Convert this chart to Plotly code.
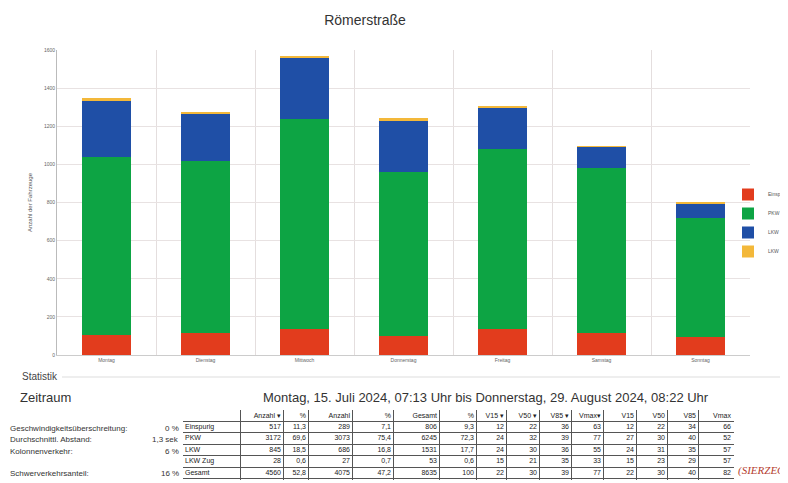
import plotly.graph_objects as go

# page body has an 8px margin, so the figure is a little smaller than the window
OFF = 8
W, H = 788 - OFF, 483 - OFF

# chart data (vehicles per weekday)
days = ["Montag", "Dienstag", "Mittwoch", "Donnerstag", "Freitag", "Samstag", "Sonntag"]
einspurig = [105, 117, 135, 100, 135, 114, 93]
pkw = [935, 901, 1101, 858, 946, 865, 627]
lkw = [292, 250, 326, 270, 216, 114, 76]
lkw_zug = [14, 8, 4, 13, 11, 2, 2]
y_ticks = [0, 200, 400, 600, 800, 1000, 1200, 1400, 1600]

# statistics table
row_labels = ["Einspurig", "PKW", "LKW", "LKW Zug", "Gesamt"]
header = ["", "Anzahl ▾", "%", "Anzahl", "%", "Gesamt", "%",
          "V15 ▾", "V50 ▾", "V85 ▾", "Vmax▾", "V15", "V50", "V85", "Vmax"]
anzahl_1 = [517, 3172, 845, 28, 4560]
pct_1 = ["11,3", "69,6", "18,5", "0,6", "52,8"]
anzahl_2 = [289, 3073, 686, 27, 4075]
pct_2 = ["7,1", "75,4", "16,8", "0,7", "47,2"]
gesamt = [806, 6245, 1531, 53, 8635]
pct_g = ["9,3", "72,3", "17,7", "0,6", "100"]
v15_1 = [12, 24, 24, 15, 22]
v50_1 = [22, 32, 30, 21, 30]
v85_1 = [36, 39, 36, 35, 39]
vmax_1 = [63, 77, 55, 33, 77]
v15_2 = [12, 27, 24, 15, 22]
v50_2 = [22, 30, 31, 23, 30]
v85_2 = [34, 40, 35, 29, 40]
vmax_2 = [66, 52, 57, 57, 82]
col_widths = [57, 43, 25, 44, 41, 46, 37, 30, 33, 32, 32, 33, 31, 31, 35]

side_labels = ["Geschwindigkeitsüberschreitung:", "Durchschnittl. Abstand:",
               "Kolonnenverkehr:", "", "Schwerverkehrsanteil:"]
side_values = ["0 %", "1,3 sek", "6 %", "", "16 %"]

colors = {"Einspurig": "#e23c1d", "PKW": "#0da444", "LKW": "#1f4fa6", "LKW Zug": "#f3b83a"}


def px(x):
    return (x - OFF) / W


def py(y):
    return 1 - (y - OFF) / H


fig = go.Figure()
for name, vals in [("Einspurig", einspurig), ("PKW", pkw), ("LKW", lkw), ("LKW Zug", lkw_zug)]:
    fig.add_trace(go.Bar(x=list(range(len(days))), y=vals, name=name,
                         marker=dict(color=colors[name], line=dict(width=0)),
                         width=0.5))

# table drawn on its own axes: x in column-width units, y in rows (0 = header)
columns = [row_labels, anzahl_1, pct_1, anzahl_2, pct_2, gesamt, pct_g,
           v15_1, v50_1, v85_1, vmax_1, v15_2, v50_2, v85_2, vmax_2]
edges = [0]
for w in col_widths:
    edges.append(edges[-1] + w)

lab_x, lab_y, lab_t = [], [], []
num_x, num_y, num_t = [], [], []
for j, col in enumerate(columns):
    cells = [header[j]] + [str(v) for v in col]
    for i, t in enumerate(cells):
        if j == 0:
            lab_x.append(edges[0] + 2); lab_y.append(i); lab_t.append(t)
        else:
            num_x.append(edges[j + 1] - 2); num_y.append(i); num_t.append(t)

fig.add_trace(go.Scatter(x=lab_x, y=lab_y, text=lab_t, mode="text", textposition="middle right",
                         textfont=dict(size=7, color="#222"), xaxis="x2", yaxis="y2",
                         showlegend=False, hoverinfo="skip"))
fig.add_trace(go.Scatter(x=num_x, y=num_y, text=num_t, mode="text", textposition="middle left",
                         textfont=dict(size=7, color="#222"), xaxis="x2", yaxis="y2",
                         showlegend=False, hoverinfo="skip"))

annotations = [
    dict(x=px(20), y=py(376), text="Statistik", font=dict(size=10, color="#444")),
    dict(x=px(18), y=py(397), text="Zeitraum", font=dict(size=13, color="#333")),
    dict(x=px(486), y=py(397), xanchor="center",
         text="Montag, 15. Juli 2024, 07:13 Uhr bis Donnerstag, 29. August 2024, 08:22 Uhr",
         font=dict(size=13, color="#333")),
    dict(x=px(736), y=py(470), text="<i>(SIERZEGA</i>",
         font=dict(size=11, color="#b5402f", family="Liberation Serif")),
]
row_y = [428, 439, 451, 462, 473]
for lab, val, yy in zip(side_labels, side_values, row_y):
    if lab:
        annotations.append(dict(x=px(8), y=py(yy), text=lab, font=dict(size=8, color="#333")))
        annotations.append(dict(x=px(181), y=py(yy), text=val, xanchor="right",
                                font=dict(size=8, color="#333")))
for a in annotations:
    a.setdefault("xanchor", "left")
    a.update(xref="paper", yref="paper", yanchor="middle", showarrow=False)

fig.update_layout(
    width=W, height=H,
    margin=dict(l=0, r=0, t=0, b=0, autoexpand=False),
    paper_bgcolor="white", plot_bgcolor="white",
    barmode="stack",
    font=dict(family="Liberation Sans", color="#555"),
    title=dict(text="Römerstraße", x=px(365), y=py(20), xanchor="center", yanchor="middle",
               font=dict(size=14, color="#333")),
    xaxis=dict(domain=[px(57), px(750)], range=[-0.5, 6.5], automargin=False,
               tickvals=list(range(len(days))), ticktext=days,
               tickfont=dict(size=5, color="#666"), showgrid=False, zeroline=False,
               ticks="", showline=True, linecolor="#ccc",
               minor=dict(tickvals=[i + 0.5 for i in range(-1, 7)], showgrid=True,
                          gridcolor="#e4dede", ticks="")),
    yaxis=dict(domain=[py(355), py(50)], range=[0, 1600], tickvals=y_ticks, automargin=False,
               tickfont=dict(size=5, color="#666"), gridcolor="#e8e2e2", zeroline=False,
               showline=True, linecolor="#bbb",
               title=dict(text="Anzahl der Fahrzeuge", font=dict(size=6, color="#555"),
                          standoff=10)),
    xaxis2=dict(domain=[px(183), px(734)], range=[0, edges[-1] + 1], automargin=False,
                tickvals=edges[1:], showticklabels=False, showgrid=True, gridcolor="#555",
                gridwidth=1, zeroline=False, ticks="", anchor="y2", fixedrange=True),
    yaxis2=dict(domain=[py(480), py(410)], range=[5.6, -0.5], automargin=False,
                tickvals=[i + 0.5 for i in range(6)], showticklabels=False, showgrid=True,
                gridcolor="#555", gridwidth=1, zeroline=False, ticks="", anchor="x2",
                fixedrange=True),
    legend=dict(x=px(728), y=py(180), xanchor="left", yanchor="top",
                font=dict(size=5, color="#555"), bgcolor="rgba(0,0,0,0)",
                traceorder="normal"),
    annotations=annotations,
    shapes=[
        dict(type="line", xref="paper", yref="paper", x0=px(62), x1=1, y0=py(377), y1=py(377),
             line=dict(color="#ddd", width=1)),
    ],
)

fig.write_html("out.html")
